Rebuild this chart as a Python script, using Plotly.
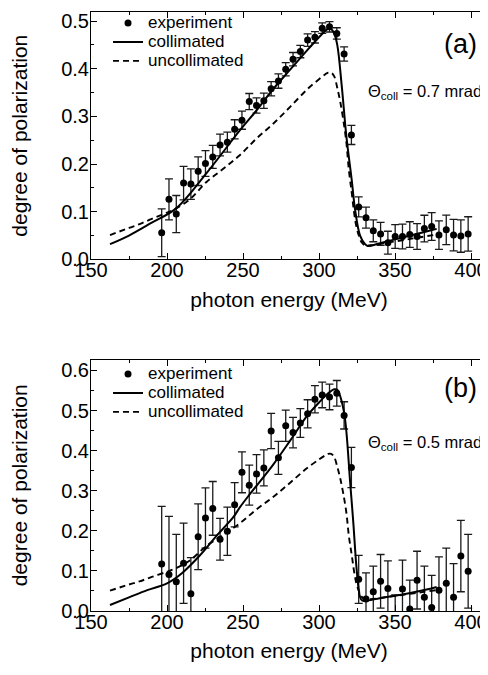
import plotly.graph_objects as go

# photon energies of the measured points (MeV)
energy = [196.5, 201.3, 206.1, 210.9, 215.7, 220.5, 225.3, 230.1, 234.9, 239.7,
          244.5, 249.3, 254.1, 258.9, 263.7, 268.5, 273.3, 278.1, 282.9, 287.7,
          292.5, 297.3, 302.1, 306.9, 311.7, 316.5, 321.3, 326.1, 330.9, 335.7,
          340.5, 345.3, 350.1, 354.9, 359.7, 364.5, 369.3, 374.1, 378.9, 383.7,
          388.5, 393.3, 398.1]

# panel (a): 0.7 mrad
pol_a = [0.056, 0.126, 0.095, 0.160, 0.158, 0.185, 0.201, 0.215, 0.240, 0.246,
         0.273, 0.292, 0.331, 0.323, 0.333, 0.358, 0.374, 0.399, 0.420, 0.436,
         0.460, 0.466, 0.485, 0.488, 0.474, 0.431, 0.261, 0.110, 0.0875, 0.060,
         0.0535, 0.035, 0.048, 0.048, 0.052, 0.048, 0.0646, 0.069, 0.051, 0.062,
         0.051, 0.049, 0.0535]
err_a = [0.050, 0.043, 0.039, 0.035, 0.032, 0.030, 0.027, 0.024, 0.023, 0.021,
         0.020, 0.019, 0.017, 0.016, 0.016, 0.015, 0.015, 0.014, 0.014, 0.013,
         0.013, 0.012, 0.011, 0.011, 0.012, 0.015, 0.020, 0.021, 0.022, 0.023,
         0.024, 0.024, 0.025, 0.026, 0.027, 0.027, 0.028, 0.029, 0.030, 0.031,
         0.033, 0.034, 0.036]

# panel (b): 0.5 mrad
pol_b = [0.117, 0.091, 0.073, 0.119, 0.043, 0.185, 0.232, 0.256, 0.179, 0.199,
         0.265, 0.346, 0.314, 0.342, 0.357, 0.449, 0.382, 0.462, 0.445, 0.469,
         0.492, 0.528, 0.539, 0.534, 0.543, 0.488, 0.358, 0.079, 0.030, 0.048,
         0.074, 0.056, -0.020, 0.055, 0.005, 0.077, 0.034, 0.009, 0.052, 0.069,
         0.034, 0.137, 0.099]
err_b = [0.144, 0.145, 0.118, 0.100, 0.090, 0.082, 0.075, 0.067, 0.052, 0.060,
         0.055, 0.051, 0.050, 0.048, 0.045, 0.044, 0.041, 0.039, 0.038, 0.036,
         0.035, 0.034, 0.032, 0.032, 0.032, 0.034, 0.050, 0.060, 0.065, 0.064,
         0.067, 0.069, 0.060, 0.072, 0.072, 0.072, 0.078, 0.080, 0.083, 0.088,
         0.084, 0.089, 0.092]

# calculated curves
coll_a_e = [162.5, 175, 190, 206, 226, 248, 259, 270, 281, 292, 300, 304, 306,
            308, 310, 312, 315, 318, 321.5, 323.7, 327, 330.3, 332, 340, 350,
            360, 370, 377.4]
coll_a_p = [0.032, 0.050, 0.077, 0.107, 0.181, 0.271, 0.313, 0.358, 0.398, 0.438,
            0.466, 0.479, 0.484, 0.483, 0.474, 0.450, 0.362, 0.258, 0.167, 0.105,
            0.050, 0.032, 0.028, 0.034, 0.042, 0.050, 0.058, 0.064]

coll_b_e = [162.5, 175, 187, 200, 210, 221.7, 232, 243.6, 248, 254.6, 270, 281,
            292, 300, 306, 310, 312, 314, 317, 320.4, 322.6, 324.8, 327, 328.5,
            340, 350, 360, 370, 377.4]
coll_b_p = [0.015, 0.034, 0.052, 0.069, 0.095, 0.139, 0.185, 0.234, 0.259, 0.292,
            0.366, 0.425, 0.486, 0.520, 0.543, 0.553, 0.552, 0.535, 0.482, 0.325,
            0.218, 0.102, 0.035, 0.026, 0.032, 0.038, 0.045, 0.053, 0.060]

uncoll_e = [162.5, 175, 182, 190, 200, 206, 215, 226, 237, 248, 259, 270, 281,
            292, 300, 304, 306, 308, 310, 312, 314, 316, 318, 319.6, 321.5, 323,
            324.5, 326.2, 328, 330, 335, 345, 360, 377]
uncoll_p = [0.051, 0.066, 0.074, 0.085, 0.098, 0.107, 0.126, 0.1625, 0.190, 0.219,
            0.254, 0.285, 0.320, 0.356, 0.378, 0.388, 0.392, 0.392, 0.384, 0.360,
            0.330, 0.292, 0.245, 0.188, 0.140, 0.100, 0.070, 0.050, 0.036, 0.030,
            0.030, 0.035, 0.043, 0.052]

legend_names = ["experiment", "collimated", "uncollimated"]

FONT = "Liberation Sans, Arial, Helvetica, sans-serif"


def lname(s):
    # bigger text than the legend font so the rows stay tight
    return '<span style="font-size:17px">' + s + "</span>"


fig = go.Figure()

panels = [
    ("x", "y", "legend", pol_a, err_a, coll_a_e, coll_a_p),
    ("x2", "y2", "legend2", pol_b, err_b, coll_b_e, coll_b_p),
]
for xa, ya, leg, pol, err, ce, cp in panels:
    fig.add_trace(go.Scatter(
        x=energy, y=pol, mode="markers", name=lname(legend_names[0]),
        marker=dict(color="black", size=7),
        error_y=dict(type="data", array=err, color="#1a1a1a", thickness=1.3, width=4),
        xaxis=xa, yaxis=ya, legend=leg))
    fig.add_trace(go.Scatter(
        x=ce, y=cp, mode="lines", name=lname(legend_names[1]), line_shape="spline",
        line=dict(color="black", width=2),
        xaxis=xa, yaxis=ya, legend=leg))
    fig.add_trace(go.Scatter(
        x=uncoll_e, y=uncoll_p, mode="lines", name=lname(legend_names[2]),
        line_shape="spline", line=dict(color="black", width=1.9, dash="6px,4px"),
        xaxis=xa, yaxis=ya, legend=leg))

xcommon = dict(
    range=[150, 410.5], tickvals=[150, 200, 250, 300, 350, 400],
    ticks="inside", ticklen=6, tickwidth=1, tickcolor="black",
    minor=dict(dtick=25, ticks="inside", ticklen=3, tickcolor="black"),
    showline=True, linecolor="black", linewidth=1, mirror="ticks",
    showgrid=False, zeroline=False, automargin=False, ticklabelstandoff=-7,
    tickfont=dict(family=FONT, size=20, color="black"),
    title=dict(text="photon energy (MeV)", font=dict(family=FONT, size=21, color="black"),
               standoff=11),
)
ycommon = dict(
    dtick=0.1, tickformat=".1f",
    ticks="inside", ticklen=6, tickwidth=1, tickcolor="black",
    minor=dict(dtick=0.05, ticks="inside", ticklen=3, tickcolor="black"),
    showline=True, linecolor="black", linewidth=1, mirror="ticks",
    showgrid=False, zeroline=False, automargin=False, ticklabelstandoff=-3,
    tickfont=dict(family=FONT, size=20, color="black"),
    title=dict(text="degree of polarization", font=dict(family=FONT, size=21, color="black"),
               standoff=29),
)

legcommon = dict(
    x=0.043, xanchor="left", yanchor="top", bgcolor="rgba(0,0,0,0)",
    font=dict(family=FONT, size=12.3, color="black"), tracegroupgap=0,
)

ann = dict(xref="paper", yref="paper", showarrow=False, yanchor="middle")

fig.update_layout(
    width=480, height=667,
    margin=dict(l=83, r=1, t=0, b=64),
    paper_bgcolor="white", plot_bgcolor="white",
    xaxis=dict(domain=[0, 1], anchor="y", **xcommon),
    yaxis=dict(domain=[0.587, 1], anchor="x", range=[0, 0.519], **ycommon),
    xaxis2=dict(domain=[0, 1], anchor="y2", **xcommon),
    yaxis2=dict(domain=[0, 0.4196], anchor="x2", range=[0, 0.627], **ycommon),
    legend=dict(y=1.006, **legcommon),
    legend2=dict(y=0.42, **legcommon),
    annotations=[
        dict(text="(a)", x=0.932, y=0.947, xanchor="center",
             font=dict(family=FONT, size=27, color="black"), **ann),
        dict(text="Θ<sub>coll</sub> = 0.7 mrad", x=0.992, y=0.867, xanchor="right",
             font=dict(family=FONT, size=16.5, color="black"), **ann),
        dict(text="(b)", x=0.934, y=0.372, xanchor="center",
             font=dict(family=FONT, size=27, color="black"), **ann),
        dict(text="Θ<sub>coll</sub> = 0.5 mrad", x=0.992, y=0.281, xanchor="right",
             font=dict(family=FONT, size=16.5, color="black"), **ann),
    ],
)

fig.write_html("out.html")
